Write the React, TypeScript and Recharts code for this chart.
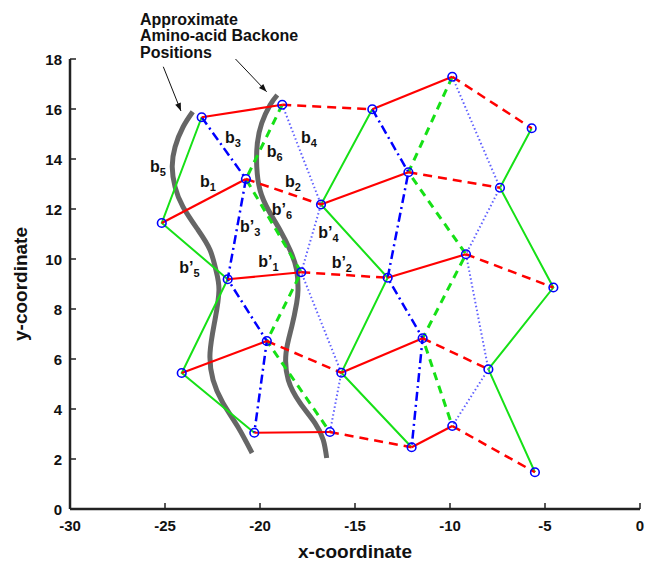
import React from 'react';
import { ComposedChart, Line, Scatter, XAxis, YAxis } from 'recharts';

// node coordinates, one array per row (top to bottom), columns left to right
const row1 = [[-23.07, 15.67], [-18.83, 16.17], [-14.09, 15.99], [-9.88, 17.29], [-5.7, 15.23]];
const row2 = [[-25.17, 11.44], [-20.74, 13.2], [-16.79, 12.18], [-12.19, 13.47], [-7.37, 12.85]];
const row3 = [[-21.7, 9.19], [-17.83, 9.47], [-13.28, 9.25], [-9.16, 10.19], [-4.56, 8.86]];
const row4 = [[-24.12, 5.44], [-19.64, 6.72], [-15.72, 5.45], [-11.44, 6.83], [-7.98, 5.59]];
const row5 = [[-20.3, 3.05], [-16.32, 3.08], [-12.02, 2.47], [-9.88, 3.32], [-5.53, 1.47]];

// thick grey backbone traces
const backboneLeft = [
  [-23.54, 15.89], [-24.05, 15.28], [-24.47, 14.48], [-24.62, 13.68], [-24.47, 12.88],
  [-24.05, 12.08], [-23.26, 11.16], [-22.63, 10.36], [-22.32, 9.56], [-22.16, 8.76],
  [-22.37, 7.56], [-22.63, 6.24], [-22.47, 5.16], [-21.95, 4.24], [-21.16, 3.28], [-20.42, 2.24],
];
const backboneRight = [
  [-19.09, 16.56], [-19.47, 16.16], [-19.91, 15.43], [-20.14, 14.63], [-20.17, 13.69],
  [-20.0, 12.76], [-19.56, 11.96], [-18.95, 11.16], [-18.42, 10.36], [-18.07, 9.56],
  [-18.0, 8.76], [-18.07, 8.24], [-18.33, 7.29], [-18.63, 6.24], [-18.51, 5.16],
  [-17.89, 4.24], [-17.11, 3.44], [-16.67, 2.76], [-16.49, 2.04],
];

// bond labels: position, letter, subscript
const bondLabels = [
  { x: -21.84, y: 14.63, main: 'b', sub: '3' },
  { x: -19.65, y: 14.09, main: 'b', sub: '6' },
  { x: -17.84, y: 14.63, main: 'b', sub: '4' },
  { x: -25.79, y: 13.49, main: 'b', sub: '5' },
  { x: -23.16, y: 12.89, main: 'b', sub: '1' },
  { x: -18.68, y: 12.89, main: 'b', sub: '2' },
  { x: -19.38, y: 11.76, main: 'b\u2019', sub: '6' },
  { x: -21.05, y: 11.09, main: 'b\u2019', sub: '3' },
  { x: -16.93, y: 10.83, main: 'b\u2019', sub: '4' },
  { x: -20.09, y: 9.69, main: 'b\u2019', sub: '1' },
  { x: -24.25, y: 9.43, main: 'b\u2019', sub: '5' },
  { x: -16.23, y: 9.63, main: 'b\u2019', sub: '2' },
];

// annotation arrows pointing at the backbones
const arrowLeft = [[-25.09, 17.69], [-24.16, 15.92]];
const arrowRight = [[-21.29, 18.0], [-19.65, 16.69]];

const xTicks = [-30, -25, -20, -15, -10, -5, 0];
const yTicks = [0, 2, 4, 6, 8, 10, 12, 14, 16, 18];

const FONT = '"Liberation Sans", Arial, Helvetica, sans-serif';
const AXIS = '#222';

const rows = [row1, row2, row3, row4, row5];
const pts = (list) => list.map(([x, y]) => ({ x, y }));
const column = (c) => rows.map((r) => r[c]);
const zigzag = (a, b) => rows.map((r, i) => r[i % 2 === 0 ? a : b]);

const redSolid = rows.flatMap((r) => [[r[0], r[1]], [r[2], r[3]]]);
const redDashed = rows.flatMap((r) => [[r[1], r[2]], [r[3], r[4]]]);
const greenSolid = [column(0), column(2), column(4)];
const greenDashed = [column(1), column(3)];
const blueDashDot = [zigzag(0, 1), zigzag(2, 3)];
const blueDotted = [zigzag(1, 2), zigzag(3, 4)];
const nodes = pts(rows.flat());

// ticks point into the plot, so draw them with the label
const XTick = ({ x, y, payload }) => (
  <g>
    <line x1={x} y1={y} x2={x} y2={y - 6} stroke={AXIS} strokeWidth={1.5} />
    <text x={x} y={y + 22} textAnchor="middle" fontFamily={FONT} fontWeight="bold" fontSize={15} fill="#111">
      {payload.value}
    </text>
  </g>
);

const YTick = ({ x, y, payload }) => (
  <g>
    <line x1={x} y1={y} x2={x + 6} y2={y} stroke={AXIS} strokeWidth={1.5} />
    <text x={x - 8} y={y + 5.5} textAnchor="end" fontFamily={FONT} fontWeight="bold" fontSize={15} fill="#111">
      {payload.value}
    </text>
  </g>
);

const NodeShape = (p) => (
  <circle cx={p.cx} cy={p.cy} r={4.3} fill="none" stroke="#0000ff" strokeWidth={1.6} />
);

const LabelShape = (p) => (
  <text x={p.cx} y={p.cy} fontFamily={FONT} fontWeight="bold" fontSize={16} fill="#111">
    {p.payload.main}
    <tspan dy={4} fontSize={11}>{p.payload.sub}</tspan>
  </text>
);

const ArrowDot = (p) => {
  const { cx, cy, index, points } = p;
  if (!points || index !== points.length - 1) return <g key={`a-${index}`} />;
  const prev = points[index - 1];
  const ang = Math.atan2(cy - prev.y, cx - prev.x);
  const L = 8;
  const W = 3;
  const bx = cx - L * Math.cos(ang);
  const by = cy - L * Math.sin(ang);
  const s = Math.sin(ang);
  const c = Math.cos(ang);
  return (
    <polygon
      key={`a-${index}`}
      points={`${cx},${cy} ${bx + W * s},${by - W * c} ${bx - W * s},${by + W * c}`}
      fill="#111"
    />
  );
};

const seg = (list, key, style) => (
  <Line
    key={key}
    data={pts(list)}
    dataKey="y"
    type="linear"
    dot={false}
    activeDot={false}
    isAnimationActive={false}
    legendType="none"
    {...style}
  />
);

export default function App() {
  return (
    <div style={{ position: 'absolute', left: 0, top: 0, width: 645, height: 563, background: '#fff' }}>
      <div
        style={{
          position: 'absolute',
          left: 140,
          top: 12,
          fontFamily: FONT,
          fontWeight: 'bold',
          fontSize: 16,
          lineHeight: '16.3px',
          color: '#111',
          whiteSpace: 'nowrap',
          zIndex: 2,
        }}
      >
        Approximate
        <br />
        Amino-acid Backone
        <br />
        Positions
      </div>
      <ComposedChart width={645} height={563} margin={{ top: 59, right: 5, bottom: 0, left: 0 }}>
        <XAxis
          type="number"
          dataKey="x"
          domain={[-30, 0]}
          ticks={xTicks}
          interval={0}
          height={54}
          tickSize={0}
          tickMargin={0}
          tickLine={false}
          axisLine={{ stroke: AXIS, strokeWidth: 2.5 }}
          tick={XTick}
          label={{
            value: 'x-coordinate',
            position: 'insideBottom',
            offset: 5,
            style: { fill: '#111', fontSize: 19, fontWeight: 'bold', fontFamily: FONT },
          }}
        />
        <YAxis
          type="number"
          dataKey="y"
          domain={[0, 18]}
          ticks={yTicks}
          interval={0}
          width={70}
          tickSize={0}
          tickMargin={0}
          tickLine={false}
          axisLine={{ stroke: AXIS, strokeWidth: 2.5 }}
          tick={YTick}
          label={{
            value: 'y-coordinate',
            angle: -90,
            position: 'insideLeft',
            offset: 20,
            style: { textAnchor: 'middle', fill: '#111', fontSize: 19, fontWeight: 'bold', fontFamily: FONT },
          }}
        />
        {[backboneLeft, backboneRight].map((b, i) =>
          seg(b, `bb-${i}`, { type: 'natural', stroke: '#666', strokeWidth: 5 })
        )}
        {greenSolid.map((l, i) => seg(l, `gs-${i}`, { stroke: '#16e016', strokeWidth: 2 }))}
        {greenDashed.map((l, i) =>
          seg(l, `gd-${i}`, { stroke: '#16e016', strokeWidth: 3, strokeDasharray: '8 6' })
        )}
        {blueDotted.map((l, i) =>
          seg(l, `bd-${i}`, { stroke: '#6060ff', strokeWidth: 2, strokeDasharray: '1.5 2.5' })
        )}
        {blueDashDot.map((l, i) =>
          seg(l, `bdd-${i}`, { stroke: '#0000ff', strokeWidth: 2.5, strokeDasharray: '9 4 2 4' })
        )}
        {redSolid.map((l, i) => seg(l, `rs-${i}`, { stroke: '#ff0000', strokeWidth: 2.2 }))}
        {redDashed.map((l, i) =>
          seg(l, `rd-${i}`, { stroke: '#ff0000', strokeWidth: 2.5, strokeDasharray: '9 6' })
        )}
        {[arrowLeft, arrowRight].map((a, i) =>
          seg(a, `ar-${i}`, { stroke: '#111', strokeWidth: 1, dot: ArrowDot })
        )}
        <Scatter data={nodes} shape={NodeShape} isAnimationActive={false} legendType="none" />
        <Scatter data={bondLabels} shape={LabelShape} isAnimationActive={false} legendType="none" />
      </ComposedChart>
    </div>
  );
}
